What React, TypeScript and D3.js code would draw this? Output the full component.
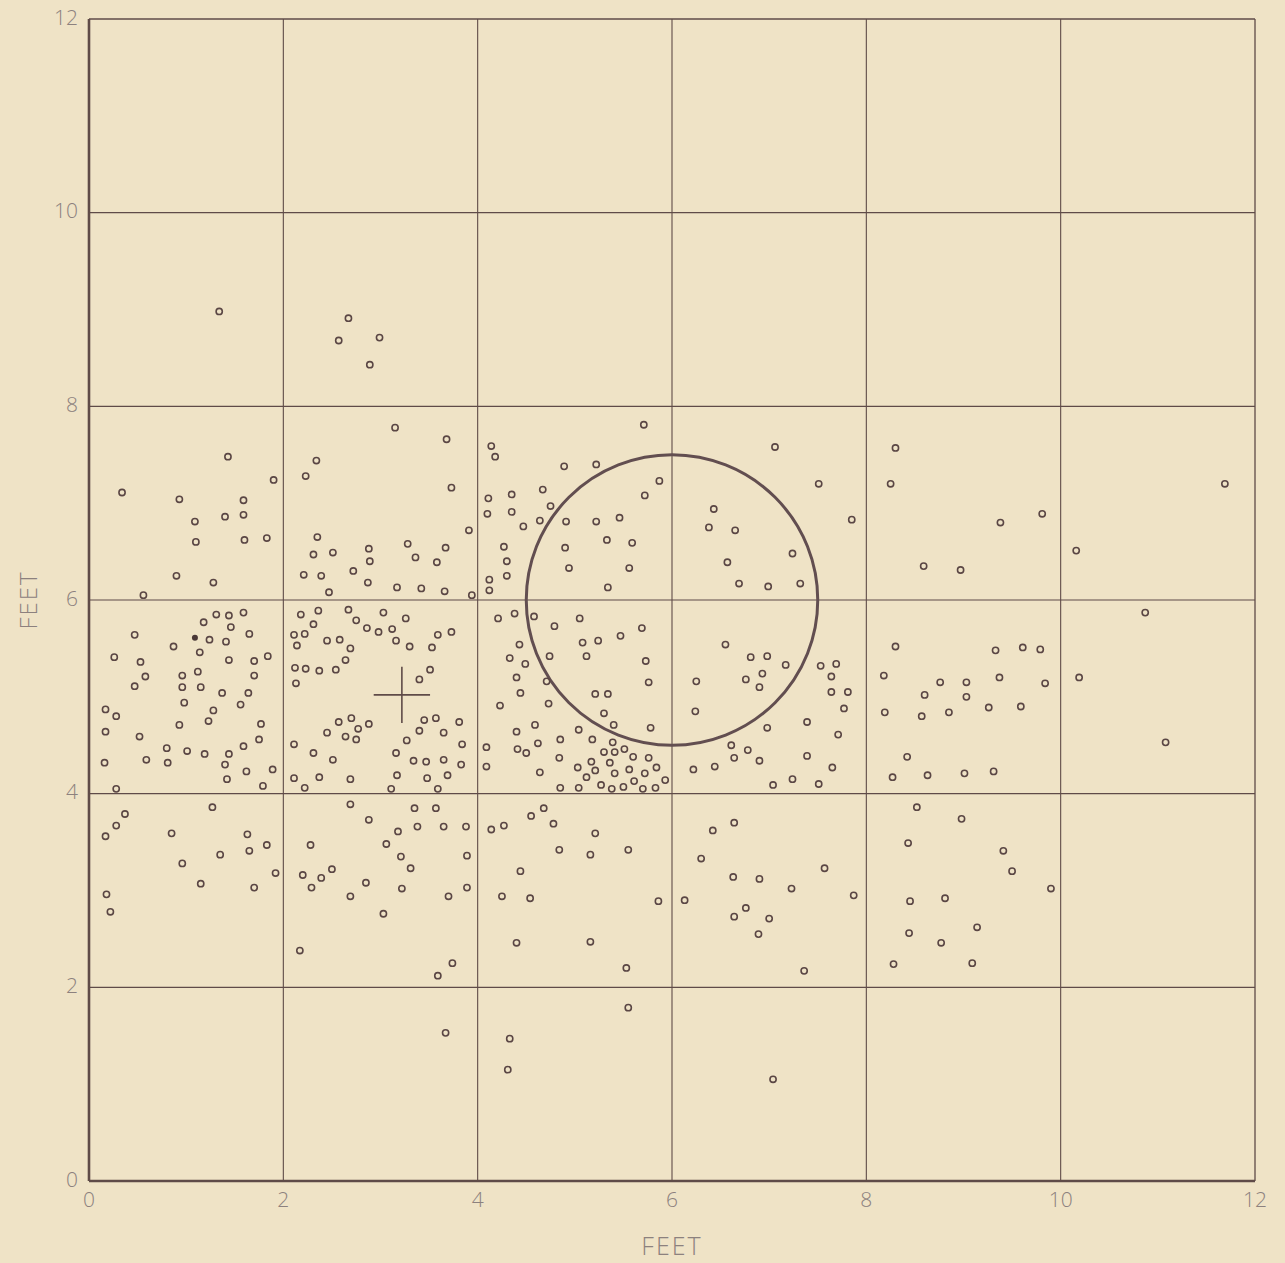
import React from "react";
import * as d3 from "d3";

// Shot pattern data (feet), grouped by grid column
const colA: [number, number][] = [
  [1.43,7.48],[0.34,7.11],[0.93,7.04],[1.90,7.24],[1.59,7.03],[1.40,6.86],[1.59,6.88],[1.09,6.81],
  [1.10,6.60],[1.60,6.62],[1.83,6.64],[0.90,6.25],[1.28,6.18],[0.56,6.05],
  [0.47,5.64],[0.26,5.41],[0.53,5.36],[0.58,5.21],[0.47,5.11],[0.17,4.87],[0.28,4.80],[0.17,4.64],
  [0.52,4.59],[0.16,4.32],[0.59,4.35],[0.28,4.05],[1.18,5.77],[1.31,5.85],[1.44,5.84],[1.59,5.87],
  [1.46,5.72],[1.24,5.59],[1.41,5.57],[1.65,5.65],[0.87,5.52],[1.14,5.46],[1.44,5.38],[1.70,5.37],
  [1.84,5.42],[0.96,5.22],[1.12,5.26],[1.70,5.22],[0.96,5.10],[1.15,5.10],[1.37,5.04],[1.64,5.04],
  [0.98,4.94],[1.56,4.92],[1.28,4.86],[1.23,4.75],[0.93,4.71],[1.77,4.72],[1.75,4.56],[1.59,4.49],
  [0.80,4.47],[0.81,4.32],[1.01,4.44],[1.19,4.41],[1.44,4.41],[1.40,4.30],[1.62,4.23],[1.89,4.25],
  [1.42,4.15],[1.79,4.08],
  [0.17,3.56],[0.28,3.67],[0.37,3.79],[0.18,2.96],[0.22,2.78],[0.85,3.59],[0.96,3.28],[1.15,3.07],
  [1.27,3.86],[1.35,3.37],[1.63,3.58],[1.65,3.41],[1.83,3.47],[1.92,3.18],[1.70,3.03],
  [1.34,8.98],
];

const colB: [number, number][] = [
  [2.34,7.44],[2.23,7.28],[2.35,6.65],[2.31,6.47],[2.51,6.49],[2.88,6.53],[2.89,6.40],[2.72,6.30],
  [2.21,6.26],[2.39,6.25],[2.87,6.18],[2.47,6.08],
  [3.15,7.78],[3.68,7.66],[3.73,7.16],[3.91,6.72],[3.28,6.58],[3.36,6.44],[3.58,6.39],[3.67,6.54],
  [3.17,6.13],[3.42,6.12],[3.66,6.09],[3.94,6.05],
  [2.18,5.85],[2.36,5.89],[2.31,5.75],[2.11,5.64],[2.22,5.65],[2.14,5.53],[2.45,5.58],[2.58,5.59],
  [2.67,5.90],[2.75,5.79],[2.86,5.71],[2.98,5.67],[3.03,5.87],[2.69,5.50],[2.64,5.38],[2.12,5.30],
  [2.23,5.29],[2.37,5.27],[2.54,5.28],[2.13,5.14],[2.57,4.74],[2.70,4.78],[2.77,4.67],[2.88,4.72],
  [2.45,4.63],[2.64,4.59],[2.75,4.56],[2.11,4.51],[2.31,4.42],[2.51,4.35],[2.11,4.16],[2.22,4.06],
  [2.37,4.17],[2.69,4.15],
  [3.26,5.81],[3.12,5.70],[3.16,5.58],[3.30,5.52],[3.53,5.51],[3.59,5.64],[3.73,5.67],[3.51,5.28],
  [3.40,5.18],[3.45,4.76],[3.57,4.78],[3.81,4.74],[3.40,4.65],[3.65,4.63],[3.27,4.55],[3.84,4.51],
  [3.16,4.42],[3.34,4.34],[3.47,4.33],[3.65,4.35],[3.83,4.30],[3.17,4.19],[3.48,4.16],[3.69,4.19],
  [3.11,4.05],[3.59,4.05],
  [2.28,3.47],[2.20,3.16],[2.29,3.03],[2.39,3.13],[2.50,3.22],[2.69,3.89],[2.88,3.73],[2.85,3.08],
  [2.69,2.94],[2.17,2.38],
  [3.03,2.76],[3.06,3.48],[3.18,3.61],[3.21,3.35],[3.31,3.23],[3.22,3.02],[3.35,3.85],[3.57,3.85],
  [3.38,3.66],[3.65,3.66],[3.88,3.66],[3.89,3.36],[3.89,3.03],[3.70,2.94],[3.74,2.25],[3.59,2.12],
  [3.67,1.53],
  [2.67,8.91],[2.57,8.68],[2.99,8.71],[2.89,8.43],
];

const colC: [number, number][] = [
  [4.14,7.59],[4.18,7.48],[4.89,7.38],[5.22,7.40],[5.71,7.81],[5.87,7.23],[5.72,7.08],[4.11,7.05],
  [4.35,7.09],[4.67,7.14],[4.75,6.97],[4.10,6.89],[4.35,6.91],[4.47,6.76],[4.64,6.82],[4.91,6.81],
  [5.22,6.81],[5.46,6.85],[5.33,6.62],[5.59,6.59],[4.90,6.54],[4.94,6.33],[5.56,6.33],[5.34,6.13],
  [4.27,6.55],[4.30,6.40],[4.30,6.25],[4.12,6.21],[4.12,6.10],
  [4.21,5.81],[4.38,5.86],[4.58,5.83],[4.79,5.73],[5.05,5.81],[5.69,5.71],[5.47,5.63],[5.24,5.58],
  [5.08,5.56],[5.12,5.42],[4.43,5.54],[4.74,5.42],[4.33,5.40],[4.49,5.34],[5.73,5.37],[4.40,5.20],
  [4.71,5.16],[5.76,5.15],[4.44,5.04],[5.21,5.03],[5.34,5.03],[4.73,4.93],[4.23,4.91],[5.30,4.83],
  [5.40,4.71],[5.78,4.68],[4.59,4.71],[4.40,4.64],[5.04,4.66],[4.85,4.56],[5.18,4.56],[4.62,4.52],
  [4.09,4.48],[4.41,4.46],[4.50,4.42],[5.39,4.53],[5.41,4.43],[5.30,4.43],[5.51,4.46],[5.60,4.38],
  [5.76,4.37],[4.84,4.37],[5.17,4.33],[5.36,4.32],[4.09,4.28],[5.03,4.27],[5.21,4.24],[5.41,4.21],
  [5.56,4.25],[5.84,4.27],[5.72,4.21],[4.64,4.22],[5.12,4.17],[5.61,4.13],[5.93,4.14],[5.27,4.09],
  [4.85,4.06],[5.04,4.06],[5.38,4.05],[5.50,4.07],[5.70,4.05],[5.83,4.06],
  [4.14,3.63],[4.27,3.67],[4.55,3.77],[4.68,3.85],[4.78,3.69],[5.21,3.59],[4.84,3.42],[5.16,3.37],
  [5.55,3.42],[4.44,3.20],[4.25,2.94],[4.54,2.92],[5.86,2.89],[4.40,2.46],[5.16,2.47],[5.53,2.20],
  [5.55,1.79],[4.33,1.47],[4.31,1.15],
];

const colD: [number, number][] = [
  [7.06,7.58],[7.51,7.20],[7.85,6.83],[6.43,6.94],[6.38,6.75],[6.65,6.72],[7.24,6.48],[6.57,6.39],
  [6.69,6.17],[6.99,6.14],[7.32,6.17],
  [6.55,5.54],[6.81,5.41],[6.98,5.42],[7.17,5.33],[6.25,5.16],[6.76,5.18],[6.93,5.24],[6.90,5.10],
  [6.24,4.85],[6.98,4.68],[7.53,5.32],[7.69,5.34],[7.64,5.21],[7.64,5.05],[7.81,5.05],[7.77,4.88],
  [7.39,4.74],[7.71,4.61],[6.61,4.50],[6.78,4.45],[6.64,4.37],[6.90,4.34],[6.22,4.25],[6.44,4.28],
  [7.39,4.39],[7.65,4.27],[7.24,4.15],[7.04,4.09],[7.51,4.10],
  [6.42,3.62],[6.64,3.70],[6.30,3.33],[6.63,3.14],[6.90,3.12],[7.23,3.02],[7.57,3.23],[7.87,2.95],
  [6.13,2.90],[6.76,2.82],[6.64,2.73],[7.00,2.71],[6.89,2.55],[7.36,2.17],[7.04,1.05],
];

const colE: [number, number][] = [
  [8.30,7.57],[8.25,7.20],[8.59,6.35],[8.97,6.31],[9.38,6.80],[9.81,6.89],[10.16,6.51],[11.69,7.20],
  [8.30,5.52],[8.18,5.22],[8.76,5.15],[8.60,5.02],[8.19,4.84],[8.57,4.80],[8.85,4.84],[8.42,4.38],
  [8.27,4.17],[8.63,4.19],
  [9.33,5.48],[9.61,5.51],[9.79,5.49],[9.03,5.15],[9.37,5.20],[9.84,5.14],[9.03,5.00],[9.26,4.89],
  [9.59,4.90],[9.01,4.21],[9.31,4.23],[10.87,5.87],[10.19,5.20],[11.08,4.53],
  [8.52,3.86],[8.98,3.74],[8.43,3.49],[8.45,2.89],[8.81,2.92],[8.44,2.56],[8.77,2.46],[8.28,2.24],
  [9.41,3.41],[9.50,3.20],[9.90,3.02],[9.14,2.62],[9.09,2.25],
];

const filledPoints: [number, number][] = [[1.09, 5.61]];
const mpiCross: [number, number] = [3.22, 5.02];
const targetCircle = { cx: 6, cy: 6, r: 1.5 };
const tickValues = [0, 2, 4, 6, 8, 10, 12];
const axisTitle = "FEET";

export default function App() {
  const W = 1285, H = 1263;
  const x = d3.scaleLinear().domain([0, 12]).range([89, 1255]);
  const y = d3.scaleLinear().domain([0, 12]).range([1181, 19]);
  const ink = "#5f4b48";
  const textCol = "#8c817e";
  const all = [...colA, ...colB, ...colC, ...colD, ...colE];
  const inner = tickValues.slice(1, -1);
  const crossHalf = 0.29;
  const font = "'Open Sans', 'DejaVu Sans', sans-serif";

  return (
    <div style={{ position: "absolute", left: 0, top: 0 }}>
      <svg width={W} height={H} style={{ display: "block" }}>
        <rect x={0} y={0} width={W} height={H} fill="#efe3c6" />
        {inner.map((v) => (
          <line key={"gx" + v} x1={x(v)} x2={x(v)} y1={y(0)} y2={y(12)} stroke={ink} strokeWidth={1.1} />
        ))}
        {inner.map((v) => (
          <line key={"gy" + v} x1={x(0)} x2={x(12)} y1={y(v)} y2={y(v)} stroke={ink} strokeWidth={1.1} />
        ))}
        <line x1={x(12)} x2={x(12)} y1={y(0)} y2={y(12)} stroke={ink} strokeWidth={1.3} />
        <line x1={x(0)} x2={x(12)} y1={y(12)} y2={y(12)} stroke={ink} strokeWidth={1.3} />
        <line x1={x(0)} x2={x(0)} y1={y(0)} y2={y(12)} stroke={ink} strokeWidth={2.6} />
        <line x1={x(0)} x2={x(12)} y1={y(0)} y2={y(0)} stroke={ink} strokeWidth={2.6} />

        <ellipse
          cx={x(targetCircle.cx)}
          cy={y(targetCircle.cy)}
          rx={x(targetCircle.r) - x(0)}
          ry={y(0) - y(targetCircle.r)}
          fill="none"
          stroke="#624e50"
          strokeWidth={3}
        />

        <line x1={x(mpiCross[0] - crossHalf)} x2={x(mpiCross[0] + crossHalf)} y1={y(mpiCross[1])} y2={y(mpiCross[1])} stroke={ink} strokeWidth={1.6} />
        <line x1={x(mpiCross[0])} x2={x(mpiCross[0])} y1={y(mpiCross[1] - crossHalf)} y2={y(mpiCross[1] + crossHalf)} stroke={ink} strokeWidth={1.6} />

        {all.map((p, i) => (
          <circle key={"p" + i} cx={x(p[0])} cy={y(p[1])} r={3.1} fill="none" stroke="#5a4644" strokeWidth={1.6} />
        ))}
        {filledPoints.map((p, i) => (
          <circle key={"f" + i} cx={x(p[0])} cy={y(p[1])} r={3} fill="#4a3836" />
        ))}

        {tickValues.map((v) => (
          <text key={"tx" + v} x={x(v)} y={1201} textAnchor="middle" dominantBaseline="middle" fontFamily={font} fontWeight={300} fontSize={21} fill={textCol}>
            {v}
          </text>
        ))}
        {tickValues.map((v) => (
          <text key={"ty" + v} x={78} y={y(v)} textAnchor="end" dominantBaseline="middle" fontFamily={font} fontWeight={300} fontSize={21} fill={textCol}>
            {v}
          </text>
        ))}
        <text x={x(6)} y={1248} textAnchor="middle" dominantBaseline="middle" fontFamily={font} fontWeight={300} fontSize={25} letterSpacing={2} fill={textCol}>
          {axisTitle}
        </text>
        <text transform={`translate(31, ${y(6)}) rotate(-90)`} textAnchor="middle" dominantBaseline="middle" fontFamily={font} fontWeight={300} fontSize={24} letterSpacing={2} fill={textCol}>
          {axisTitle}
        </text>
      </svg>
    </div>
  );
}
